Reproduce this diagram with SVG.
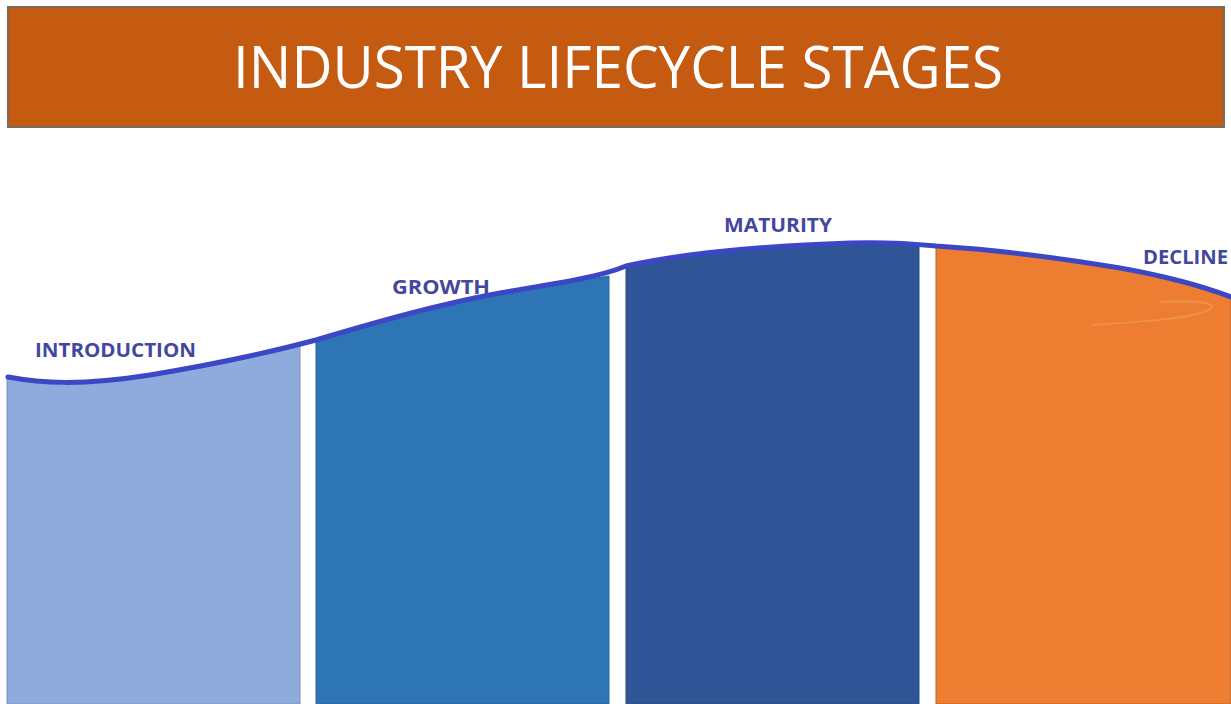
<svg xmlns="http://www.w3.org/2000/svg" width="1231" height="704" viewBox="0 0 1231 704">
<style>
.lbl{font-family:"Open Sans","Liberation Sans",sans-serif;font-weight:bold;font-size:20px;fill:#4347A0}
.bar{stroke-width:1}
</style>
<rect width="1231" height="704" fill="#ffffff"/>
<g id="header">
<rect x="8" y="7" width="1216" height="120" fill="#C55A11" stroke="#7A6A5C" stroke-width="2"/>
<text x="618" y="88" text-anchor="middle" font-family="'Open Sans','Liberation Sans',sans-serif" font-size="59" fill="#ffffff" textLength="770" lengthAdjust="spacingAndGlyphs">INDUSTRY LIFECYCLE STAGES</text>
</g>
<g id="introduction">
<path class="bar" d="M7,378 C40,383 80,386 150,375 C210,365 260,355 300,345 L300,704 L7,704 Z" fill="#8FAADC" stroke="#7F92B8"/>
<text class="lbl" x="35" y="357" textLength="161" lengthAdjust="spacingAndGlyphs">INTRODUCTION</text>
</g>
<g id="growth">
<path class="bar" d="M316,340 C380,321 440,304 500,293 C560,283 590,279 609,276 L609,704 L316,704 Z" fill="#2E75B6" stroke="#2A679E"/>
<text class="lbl" x="392" y="294" textLength="98" lengthAdjust="spacingAndGlyphs">GROWTH</text>
</g>
<g id="maturity">
<path class="bar" d="M626,266 C680,254 760,246 850,243 C880,242 905,243 919,244 L919,704 L626,704 Z" fill="#2F5597" stroke="#2A4C86"/>
<text class="lbl" x="724" y="232" textLength="108" lengthAdjust="spacingAndGlyphs">MATURITY</text>
</g>
<g id="decline">
<path class="bar" d="M936,247 C1000,250 1060,258 1120,268 C1170,277 1205,287 1231,297 L1231,704 L936,704 Z" fill="#ED7D31" stroke="#B7652C"/>
<path d="M1092,325 C1140,322 1200,318 1212,308 C1215,302 1190,300 1160,302" fill="none" stroke="#F19A55" stroke-width="2" opacity="0.7"/>
<text class="lbl" x="1143" y="264" textLength="85" lengthAdjust="spacingAndGlyphs">DECLINE</text>
</g>
<g id="connectors">
<path d="M8,377 C40,383 80,386 150,375 C210,365 260,355 316,340 C380,321 440,304 500,293 C560,283 600,277 626,266 C680,254 760,246 850,243 C880,242 905,243 936,246 C1000,250 1060,258 1120,268 C1170,277 1205,287 1231,297" fill="none" stroke="#3B47C4" stroke-width="5" stroke-linecap="round"/>
</g>
</svg>
